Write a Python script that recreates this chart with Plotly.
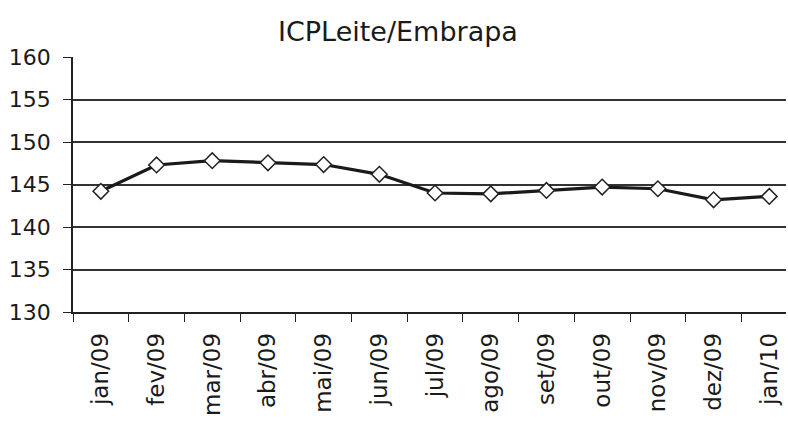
import plotly.graph_objects as go

categories = ["jan/09", "fev/09", "mar/09", "abr/09", "mai/09", "jun/09", "jul/09",
              "ago/09", "set/09", "out/09", "nov/09", "dez/09", "jan/10"]
values = [144.2, 147.3, 147.8, 147.55, 147.35, 146.2, 144.0, 143.9, 144.3, 144.7, 144.5, 143.2, 143.6]
y_ticks = [130, 135, 140, 145, 150, 155, 160]

fig = go.Figure()
fig.add_trace(go.Scatter(
    x=categories, y=values, mode="lines+markers",
    line=dict(color="#1a1a1a", width=3.2),
    marker=dict(symbol="diamond", size=12, color="white",
                line=dict(color="#222222", width=1.5)),
    showlegend=False,
))

fig.update_layout(
    width=788, height=421,
    margin=dict(l=73, r=2, t=57, b=109),
    paper_bgcolor="white", plot_bgcolor="white",
    font=dict(family="DejaVu Sans", color="#1a1a1a"),
    title=dict(text="ICPLeite/Embrapa", x=0.505, xanchor="center",
               y=0.925, yanchor="middle", font=dict(size=27, color="#1a1a1a")),
)
fig.update_xaxes(
    type="category", range=[-0.5, 12.3], automargin=False,
    tickangle=-90, tickfont=dict(size=23), ticklabelstandoff=10,
    ticks="outside", tickson="boundaries", ticklen=8, tickcolor="#222",
    showline=True, linecolor="#222", linewidth=1.5,
    showgrid=False,
)
fig.update_yaxes(
    range=[130, 160], tickvals=y_ticks, automargin=False,
    tickfont=dict(size=22), ticklabelstandoff=8,
    ticks="outside", ticklen=8, tickcolor="#222",
    showline=True, linecolor="#222", linewidth=1.5,
    showgrid=True, gridcolor="#333333", gridwidth=1.5,
    zeroline=False,
)

fig.write_html("out.html", config={"displayModeBar": False},
               post_script="document.body.style.margin='0';")
